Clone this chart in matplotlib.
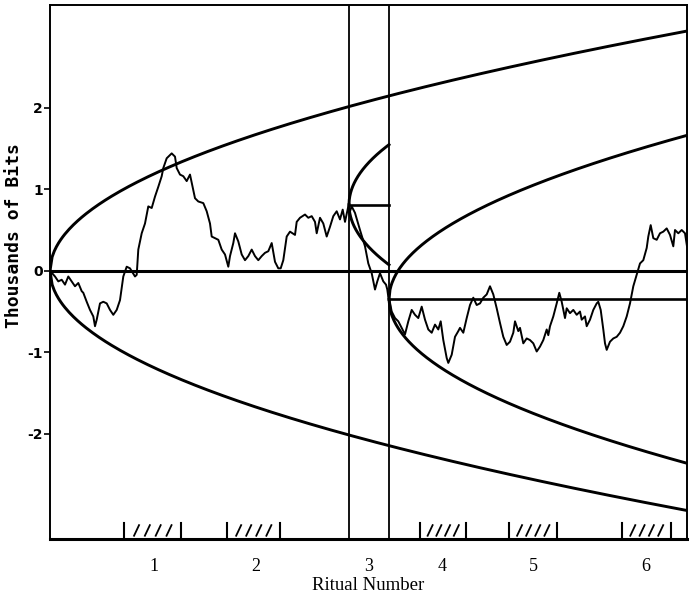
import numpy as np
import matplotlib
matplotlib.use("Agg")
import matplotlib.pyplot as plt

# ---------------- data ----------------
# cumulative deviation (thousands of bits) vs. trial position (arbitrary units)
walk_x = [0, 5, 8.3, 11.7, 15, 18.3, 21.7, 25, 28.3, 31.7, 33.3, 36.7, 40, 43.3, 45,
          46.7, 50, 53.3, 56.7, 60, 63.3, 66.7, 70, 73.3, 76.7, 80, 85, 86.7, 88.3,
          91.7, 95, 98.3, 101.7, 105, 108.3, 111.7, 113.3, 116.7, 121.7, 125, 126.7,
          130, 133.3, 136.7, 140,
          145, 148.3, 153.3, 156.7, 160, 161.7, 165, 168.3, 171.7, 175, 178.3, 180,
          183.3, 185, 188.3, 191.7, 195, 198.3, 201.7, 205, 208.3, 211.7, 215, 218.3,
          221.7, 225, 228.3, 230.7, 233.3, 236.7, 240, 245, 246.7, 250, 255, 258.3,
          261.7, 265, 266.7, 270, 273.3, 276.7, 280, 283.3, 286.7, 290, 292.7, 295,
          298.3, 300, 301.7, 305, 310, 315, 318.3, 321.7, 325, 327.3, 330, 333.3, 336,
          337.3, 338.3, 339.5,
          341.7, 345, 348.3, 351.7, 355, 358.3, 361.7, 365, 368.3, 371.7, 375, 378.3,
          381.7, 385, 388.3, 390.7, 393.3, 396.7, 398.3, 401.7, 405, 408.3, 410, 413.3,
          416.7, 420, 423.3, 426.7, 430, 433.3, 436.7, 440, 443.3, 446.7, 450, 453.3,
          456.7, 460, 463.3, 465, 468.3, 470, 473.3, 476.7, 480,
          483.3, 486.7, 490, 493.3, 496.7, 498.3, 500, 503.3, 506.7, 509.3, 511.7, 515,
          516.7, 520, 523.3, 526.7, 530, 531.7, 535, 536.7, 540, 543.3, 546.7, 548.3,
          550.7, 553.3, 555, 556.7, 560, 563.3, 566.7, 570, 573.3, 576.7, 580, 583.3,
          586.7, 590, 593.3, 596.7, 598.3, 600.7, 603.3, 606.7, 610, 613.3, 616.7,
          620, 623.3, 625, 628.3, 631.7, 635, 637]
walk_y = [0, -0.07, -0.13, -0.11, -0.17, -0.07, -0.13, -0.19, -0.15, -0.25, -0.27,
          -0.38, -0.48, -0.56, -0.68, -0.60, -0.40, -0.38, -0.40, -0.48, -0.54, -0.48,
          -0.36, -0.07, 0.05, 0.03, -0.07, -0.05, 0.26, 0.46, 0.58, 0.79, 0.77, 0.91,
          1.03, 1.16, 1.26, 1.38, 1.44, 1.40, 1.26, 1.18, 1.16, 1.10, 1.18,
          0.89, 0.85, 0.83, 0.73, 0.58, 0.42, 0.40, 0.38, 0.26, 0.20, 0.05, 0.18,
          0.34, 0.46, 0.36, 0.20, 0.13, 0.18, 0.26, 0.18, 0.13, 0.18, 0.22, 0.24, 0.34,
          0.11, 0.03, 0.03, 0.13, 0.42, 0.48, 0.44, 0.60, 0.65, 0.69, 0.65, 0.67, 0.60,
          0.46, 0.65, 0.58, 0.42, 0.54, 0.67, 0.73, 0.63, 0.75, 0.60, 0.79, 0.73, 0.79,
          0.71, 0.50, 0.30, 0.09, -0.03, -0.23, -0.13, -0.03, -0.13, -0.17, -0.23,
          -0.32, -0.36,
          -0.50, -0.58, -0.62, -0.70, -0.78, -0.62, -0.48, -0.54, -0.58, -0.44, -0.60,
          -0.72, -0.76, -0.66, -0.72, -0.62, -0.85, -1.07, -1.13, -1.03, -0.81, -0.74,
          -0.70, -0.76, -0.58, -0.42, -0.33, -0.42, -0.40, -0.33, -0.29, -0.19, -0.29,
          -0.46, -0.64, -0.81, -0.91, -0.87, -0.76, -0.62, -0.74, -0.70, -0.89, -0.83,
          -0.85,
          -0.89, -0.99, -0.93, -0.85, -0.72, -0.79, -0.68, -0.56, -0.40, -0.27, -0.38,
          -0.58, -0.46, -0.52, -0.48, -0.54, -0.50, -0.60, -0.56, -0.68, -0.60, -0.48,
          -0.40, -0.38, -0.48, -0.72, -0.89, -0.97, -0.87, -0.83, -0.81, -0.76, -0.68,
          -0.56, -0.40, -0.19, -0.05, 0.09, 0.13, 0.28, 0.42, 0.56, 0.40, 0.38, 0.46,
          0.48, 0.52, 0.44, 0.30, 0.50, 0.46, 0.50, 0.46, 0.30]

# expected-deviation envelope segments: (start x, end x, centre value)
env_segments = [(0, 637, 0.0), (299, 339, 0.81), (339, 637, -0.35)]
env_k = 0.1165            # envelope half-width per sqrt(unit)
segment_lines = [299, 339]  # vertical boundaries of ritual 3

# ritual periods (hatched brackets) and ritual label positions
ritual_bars = [(74, 131), (177, 230), (370, 416), (459, 507), (572, 621)]
ritual_centers = [104, 206, 319, 392, 483, 596]
ritual_labels = ["1", "2", "3", "4", "5", "6"]

y_ticks = [-2, -1, 0, 1, 2]
x_lim = (0, 637)
y_lim = (-3.29, 3.26)

# ---------------- figure ----------------
fig = plt.figure(figsize=(6.89, 6.02), dpi=100)
ax = fig.add_axes([50 / 689, 1 - 539 / 602, 637 / 689, 534 / 602])
ax.set_xlim(*x_lim)
ax.set_ylim(*y_lim)

ink = "black"
# zero line
ax.axhline(0, color=ink, lw=2.2, zorder=2)

# envelopes
for x0, x1, c in env_segments:
    xs = np.linspace(x0, x1, 300)
    hw = env_k * np.sqrt(xs - x0)
    ax.plot(xs, c + hw, color=ink, lw=2.1, zorder=2)
    ax.plot(xs, c - hw, color=ink, lw=2.1, zorder=2)
    if c != 0.0:
        ax.plot([x0, x1], [c, c], color=ink, lw=1.9, zorder=2)

# vertical ritual-3 boundaries
for xv in segment_lines:
    ax.axvline(xv, color=ink, lw=1.3, zorder=2)

# the walk
ax.plot(walk_x, walk_y, color=ink, lw=1.4, zorder=3)

# ritual brackets with hatch marks
y_base = y_lim[0]
for a, b in ritual_bars:
    ax.plot([a, a], [y_base, y_base + 0.20], color=ink, lw=1.5, clip_on=False)
    ax.plot([b, b], [y_base, y_base + 0.20], color=ink, lw=1.5, clip_on=False)
    w = b - a
    for i in range(4):
        xc = a + w * (0.22 + 0.19 * i)
        ax.plot([xc - 2.5, xc + 2.5], [y_base + 0.04, y_base + 0.17],
                color=ink, lw=1.3)

# spines
for s in ["top", "right", "left"]:
    ax.spines[s].set_linewidth(1.4)
ax.spines["bottom"].set_linewidth(2.2)

# ticks
ax.set_yticks(y_ticks)
ax.set_yticklabels([str(t) for t in y_ticks], fontfamily="DejaVu Sans",
                   fontweight="bold", fontsize=10)
ax.tick_params(axis="y", direction="out", length=4, width=1.2, pad=1)
ax.set_xticks(ritual_centers)
ax.set_xticklabels(ritual_labels, fontfamily="Liberation Serif", fontsize=13)
ax.tick_params(axis="x", length=0, pad=14)

ax.set_xlabel("Ritual Number", fontfamily="Liberation Serif", fontsize=13.5,
              labelpad=1)
ax.set_ylabel("Thousands of Bits", fontfamily="DejaVu Sans Mono",
              fontweight="bold", fontsize=13)
ax.yaxis.set_label_coords(-0.043, 0.569)

fig.savefig("out.png", dpi=100)
